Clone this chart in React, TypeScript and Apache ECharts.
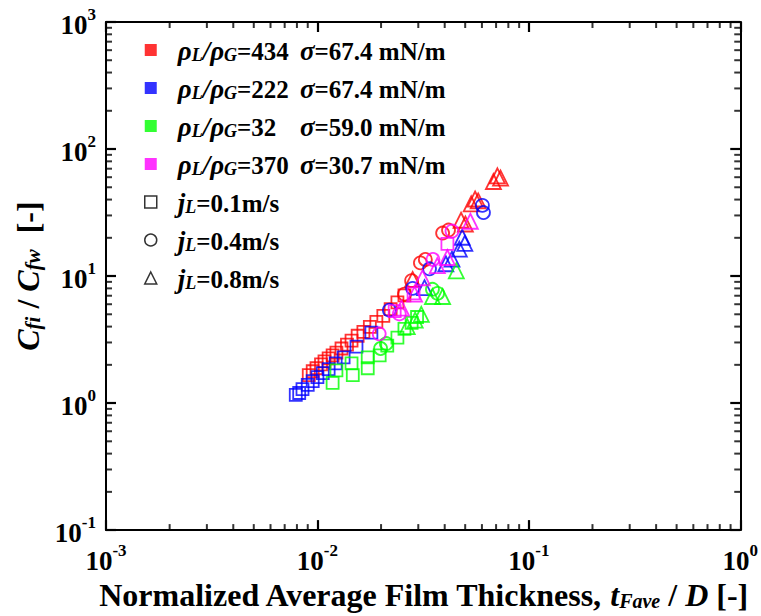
import React, { useEffect, useRef } from "react";
import * as echarts from "echarts";

// ---- data (x = t_Fave/D, y = Cfi/Cfw) ----
// rhoL/rhoG = 434, sigma = 67.4 (red)
const red_j01: [number, number][] = [
  [0.0091, 1.66], [0.0095, 1.78], [0.0099, 1.88], [0.0104, 2.02], [0.0108, 2.13],
  [0.0113, 2.25], [0.0118, 2.37], [0.0123, 2.5], [0.013, 2.69], [0.0138, 2.89],
  [0.0145, 3.1], [0.0155, 3.39], [0.0165, 3.64], [0.0177, 3.98], [0.019, 4.36],
  [0.0205, 4.85], [0.0222, 5.5], [0.0239, 6.2], [0.0258, 7.05],
];
const red_j04: [number, number][] = [
  [0.0258, 7.2], [0.0279, 9.2], [0.0307, 12.7], [0.0324, 13.5], [0.0391, 21.8], [0.0417, 23.0],
];
const red_j08: [number, number][] = [
  [0.0282, 9.4], [0.0478, 27.5], [0.0501, 25.7], [0.0534, 37.0], [0.0557, 40.4],
  [0.0576, 39.0], [0.068, 55.5], [0.071, 61.5], [0.0735, 59.0],
];
// rhoL/rhoG = 222, sigma = 67.4 (blue)
const blue_j01: [number, number][] = [
  [0.0079, 1.16], [0.0082, 1.2], [0.0085, 1.29], [0.009, 1.39], [0.0095, 1.49],
  [0.01, 1.6], [0.0106, 1.72], [0.0113, 1.85], [0.0122, 2.05], [0.0133, 2.29],
  [0.0153, 2.78], [0.018, 3.58],
];
const blue_j04: [number, number][] = [
  [0.0219, 5.39], [0.0282, 8.0], [0.0339, 11.4], [0.0603, 36.0], [0.061, 31.6],
];
const blue_j08: [number, number][] = [
  [0.0321, 8.1], [0.0405, 12.5], [0.0433, 13.6], [0.0469, 16.3], [0.0498, 18.1], [0.0484, 20.2],
];
// rhoL/rhoG = 32, sigma = 59.0 (green)
const green_j01: [number, number][] = [
  [0.0118, 1.44], [0.0123, 1.81], [0.0145, 2.05], [0.0147, 1.66], [0.0173, 2.29],
  [0.0173, 1.88], [0.0197, 2.37], [0.0214, 2.83], [0.0239, 3.27], [0.0258, 3.84],
  [0.0279, 4.28], [0.0296, 4.76],
];
const green_j04: [number, number][] = [
  [0.0199, 2.69], [0.0212, 2.94], [0.035, 7.86], [0.037, 7.3],
];
const green_j08: [number, number][] = [
  [0.0266, 4.0], [0.029, 4.5], [0.031, 5.0], [0.035, 6.9], [0.0391, 6.9], [0.0454, 11.0],
];
// rhoL/rhoG = 370, sigma = 30.7 (magenta)
const mag_j01: [number, number][] = [
  [0.0232, 5.3], [0.0285, 7.3], [0.0412, 17.9],
];
const mag_j04: [number, number][] = [
  [0.0196, 3.51], [0.0244, 5.03], [0.0352, 13.5], [0.0433, 22.6],
];
const mag_j08: [number, number][] = [
  [0.025, 5.6], [0.0288, 7.2], [0.0314, 9.7], [0.0369, 12.1], [0.0412, 14.0], [0.0529, 27.0],
];

// legend entries
const fluidNames = ["434", "222", "32", "370"];
const fluidColors = ["#ff0000", "#0000ff", "#00ff00", "#ff00ff"];
const fluidSigma = ["67.4", "67.4", "59.0", "30.7"];
const jlNames = ["0.1", "0.4", "0.8"];
const jlSymbols = ["rect", "circle", "triangle"];

// axis ranges & minor-tick layout
const xMin = 0.001, xMax = 1;
const yMin = 0.1, yMax = 1000;
const xDecades = [0.001, 0.01, 0.1];
const yDecades = [0.1, 1, 10, 100];
const minorMult = [2, 3, 4, 5, 6, 7, 8, 9];

const FONT = "'Liberation Serif', 'Times New Roman', serif";

export default function App() {
  const ref = useRef<HTMLDivElement>(null);
  useEffect(() => {
    if (!ref.current) return;
    const chart = echarts.init(ref.current, undefined, { renderer: "svg" });

    const xMinor: number[] = [];
    xDecades.forEach((d) => minorMult.forEach((m) => xMinor.push(+(d * m).toPrecision(3))));
    const yMinor: number[] = [];
    yDecades.forEach((d) => minorMult.forEach((m) => yMinor.push(+(d * m).toPrecision(3))));

    const grouped = [
      [red_j01, red_j04, red_j08],
      [blue_j01, blue_j04, blue_j08],
      [green_j01, green_j04, green_j08],
      [mag_j01, mag_j04, mag_j08],
    ];
    const symSize = [12, 13, 15];

    const dataSeries: any[] = [];
    grouped.forEach((g, fi) => {
      g.forEach((d, ji) => {
        dataSeries.push({
          type: "scatter",
          name: "d" + fi + "_" + ji,
          data: d,
          symbol: jlSymbols[ji],
          symbolSize: symSize[ji],
          itemStyle: { color: "rgba(255,255,255,0)", borderColor: fluidColors[fi], borderWidth: 1.8 },
          z: 3,
        });
      });
    });

    const legendSeries: any[] = [];
    fluidNames.forEach((n, i) =>
      legendSeries.push({
        type: "scatter", name: "f" + i, data: [], symbol: "rect",
        itemStyle: { color: fluidColors[i] },
      })
    );
    jlNames.forEach((n, i) =>
      legendSeries.push({
        type: "scatter", name: "j" + i, data: [], symbol: jlSymbols[i],
        itemStyle: { color: "#ffffff", borderColor: "#000", borderWidth: 1.5 },
      })
    );

    const TL = 6;
    const TW = 2;
    const tickSeries = (name: string, data: number[][], size: number[], offset: number[]) => ({
      type: "scatter",
      name,
      data,
      symbol: "rect",
      symbolSize: size,
      symbolOffset: offset,
      itemStyle: { color: "#000" },
      silent: true,
      clip: false,
      z: 4,
    });
    const minorSeries = [
      tickSeries("mb", xMinor.map((v) => [v, yMin]), [TW, TL], [0, -TL / 2]),
      tickSeries("mt", xMinor.map((v) => [v, yMax]), [TW, TL], [0, TL / 2]),
      tickSeries("ml", yMinor.map((v) => [xMin, v]), [TL, TW], [TL / 2, 0]),
      tickSeries("mr", yMinor.map((v) => [xMax, v]), [TL, TW], [-TL / 2, 0]),
    ];

    const supLabel = {
      fontFamily: FONT, fontWeight: "bold", color: "#000",
      formatter: (v: number) => `{b|10}{s|${Math.round(Math.log10(v))}}`,
      rich: {
        b: { fontFamily: FONT, fontWeight: "bold", fontSize: 27, lineHeight: 32, verticalAlign: "bottom", color: "#000" },
        s: { fontFamily: FONT, fontWeight: "bold", fontSize: 17, lineHeight: 32, verticalAlign: "top", color: "#000" },
      },
    };
    const mkLine = () => ({ show: true, onZero: false, lineStyle: { color: "#000", width: 2 } });
    const mkTick = () => ({ show: true, inside: true, length: 10, lineStyle: { color: "#000", width: 2.2 } });

    const titleRich = (fs: number, sfs: number) => ({
      n: { fontFamily: FONT, fontWeight: "bold", fontSize: fs, lineHeight: fs + 6, verticalAlign: "bottom", color: "#000" },
      i: { fontFamily: FONT, fontWeight: "bold", fontStyle: "italic", fontSize: fs, lineHeight: fs + 6, verticalAlign: "bottom", color: "#000" },
      sub: { fontFamily: FONT, fontWeight: "bold", fontStyle: "italic", fontSize: sfs, lineHeight: fs + 2, verticalAlign: "bottom", color: "#000" },
    });

    const legendRich = {
      pad: { width: 16, fontSize: 24, lineHeight: 28 },
      g: { fontFamily: FONT, fontWeight: "bold", fontStyle: "italic", fontSize: 27, lineHeight: 28, verticalAlign: "bottom", color: "#000" },
      gs: { fontFamily: FONT, fontWeight: "bold", fontStyle: "italic", fontSize: 18, lineHeight: 24, verticalAlign: "bottom", color: "#000" },
      n: { fontFamily: FONT, fontWeight: "bold", fontSize: 25, lineHeight: 28, verticalAlign: "bottom", color: "#000" },
      num: { fontFamily: FONT, fontWeight: "bold", fontSize: 25, lineHeight: 28, verticalAlign: "bottom", color: "#000", width: 63 },
    };

    chart.setOption({
      animation: false,
      backgroundColor: "#fff",
      grid: { left: 106, right: 20, top: 22, bottom: 79 },
      legend: {
        orient: "vertical",
        left: 139,
        top: 32,
        itemWidth: 12,
        itemHeight: 12,
        itemGap: 11,
        selectedMode: false,
        data: [
          ...fluidNames.map((n, i) => ({ name: "f" + i, icon: "rect", itemStyle: { color: fluidColors[i] } })),
          ...jlNames.map((n, i) => ({
            name: "j" + i,
            icon: jlSymbols[i],
            itemStyle: { color: "#ffffff", borderColor: "#000", borderWidth: 1.5 },
          })),
        ],
        formatter: (name: string) => {
          const k = +name.slice(1);
          if (name[0] === "f") {
            return `{pad| }{g|ρ}{gs|L}{g|/ρ}{gs|G}{num|=${fluidNames[k]}}{g|σ}{n|=${fluidSigma[k]} mN/m}`;
          }
          return `{pad| }{g|j}{gs|L}{n|=${jlNames[k]}m/s}`;
        },
        textStyle: { rich: legendRich },
      },
      xAxis: [
        {
          type: "log", logBase: 10, min: xMin, max: xMax, position: "bottom",
          axisLine: mkLine(), axisTick: mkTick(), splitLine: { show: false },
          axisLabel: { ...supLabel, margin: 12 },
          name: "{n|Normalized Average Film Thickness, }{i|t}{sub|Fave}{n| / }{i|D}{n| [-]}",
          nameLocation: "middle", nameGap: 42,
          nameTextStyle: { rich: titleRich(32, 20), fontFamily: FONT },
        },
        {
          type: "log", logBase: 10, min: xMin, max: xMax, position: "top",
          axisLine: mkLine(), axisTick: mkTick(), axisLabel: { show: false }, splitLine: { show: false },
        },
      ],
      yAxis: [
        {
          type: "log", logBase: 10, min: yMin, max: yMax, position: "left",
          axisLine: mkLine(), axisTick: mkTick(), splitLine: { show: false },
          axisLabel: { ...supLabel, margin: 10 },
          name: "{i|C}{sub|fi}{n| / }{i|C}{sub|fw}{n|  [-]}",
          nameLocation: "middle", nameGap: 62, nameRotate: 90,
          nameTextStyle: { rich: titleRich(32, 21), fontFamily: FONT },
        },
        {
          type: "log", logBase: 10, min: yMin, max: yMax, position: "right",
          axisLine: mkLine(), axisTick: mkTick(), axisLabel: { show: false }, splitLine: { show: false },
        },
      ],
      series: [...dataSeries, ...legendSeries, ...minorSeries],
    });
    return () => chart.dispose();
  }, []);
  return <div ref={ref} style={{ position: "fixed", left: 0, top: 0, width: 761, height: 616 }} />;
}
